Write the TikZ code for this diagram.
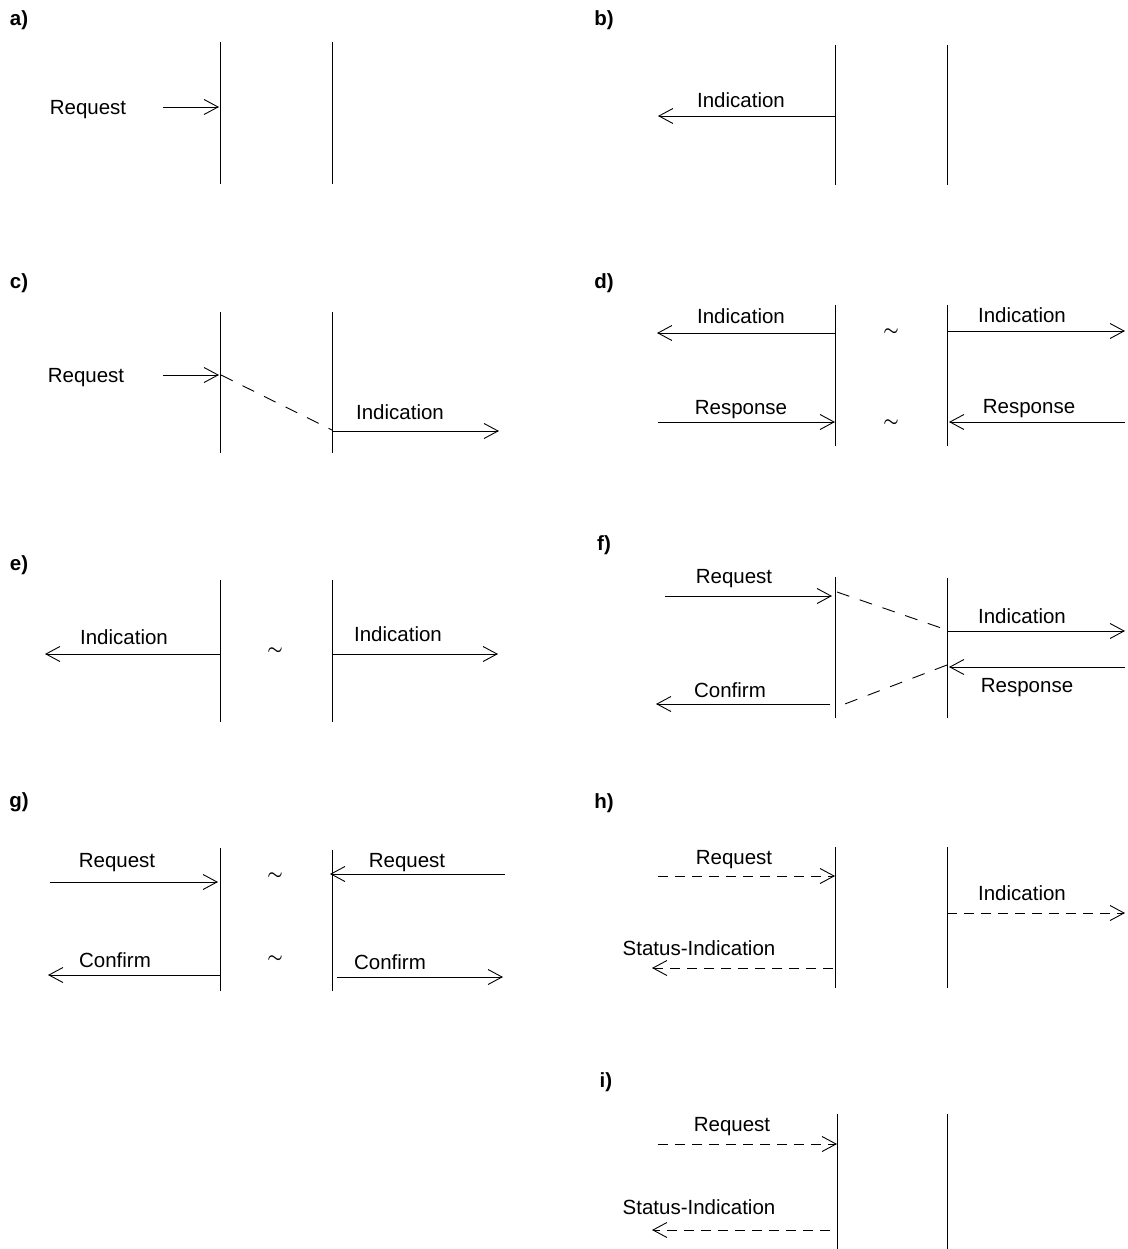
\documentclass[tikz,border=0pt]{standalone}
\usepackage{fontspec}
\setmainfont{Liberation Sans}
\usetikzlibrary{arrows.meta}

\begin{document}
\begin{tikzpicture}[x=1pt,y=-1pt,line width=0.9pt,
    every node/.style={font=\fontsize{20.5}{24}\selectfont,inner sep=0pt},
    msg/.style={-{Straight Barb[length=14pt,width=15pt,line width=0.9pt]}},
    svc/.style={msg,dash pattern=on 10pt off 7pt},
    link/.style={dash pattern=on 13pt off 11pt},
    wave/.style={font=\fontsize{19}{20}\selectfont\boldmath},
    tag/.style={font=\fontsize{20.5}{24}\selectfont\bfseries}]
    \useasboundingbox (0,0) rectangle (1127,1249);
    % a)
    \node[tag] (ta) at (19,20) {a)};
    \draw (220,42) -- (220,184);
    \draw (332,42) -- (332,184);
    \draw[msg] (163,107) -- (219,107);
    \node (reqa) at (88,110) {Request};
    % b)
    \node[tag] (tb) at (604,20) {b)};
    \draw (835,45) -- (835,185);
    \draw (947,45) -- (947,185);
    \draw[msg] (835,116) -- (658,116);
    \node (inb) at (741,100) {Indication};
    % c)
    \node[tag] (tc) at (19,283) {c)};
    \draw (220,312) -- (220,453);
    \draw (332,312) -- (332,453);
    \draw[msg] (163,375) -- (219,375);
    \node (reqc) at (86,378) {Request};
    \draw[link] (221,375) -- (332,430);
    \draw[msg] (332,431) -- (499,431);
    \node (inc) at (400,412) {Indication};
    % d)
    \node[tag] (td) at (604,283) {d)};
    \draw (835,305) -- (835,446);
    \draw (947,305) -- (947,446);
    \draw[msg] (835,333) -- (657,333);
    \node (ind1) at (741,316) {Indication};
    \node[wave] (tl1) at (891,332) {$\sim$};
    \draw[msg] (947,331) -- (1125,331);
    \node (ind2) at (1022,315) {Indication};
    \draw[msg] (658,422) -- (835,422);
    \node (rsd1) at (741,410) {Response};
    \node[wave] (tl2) at (891,423) {$\sim$};
    \draw[msg] (1125,422) -- (949,422);
    \node (rsd2) at (1029,409) {Response};
    % e)
    \node[tag] (te) at (19,565) {e)};
    \draw (220,580) -- (220,722);
    \draw (332,580) -- (332,722);
    \draw[msg] (220,654) -- (45,654);
    \node (ine1) at (124,637) {Indication};
    \node[wave] (tl3) at (275,651) {$\sim$};
    \draw[msg] (332,654) -- (498,654);
    \node (ine2) at (398,634) {Indication};
    % f)
    \node[tag] (tf) at (604,545) {f)};
    \draw (835,577) -- (835,718);
    \draw (947,578) -- (947,718);
    \draw[msg] (665,596) -- (832,596);
    \node (reqf) at (734,579) {Request};
    \draw[link] (837,592) -- (947,630);
    \draw[msg] (947,631) -- (1125,631);
    \node (inf) at (1022,616) {Indication};
    \draw[msg] (1125,667) -- (949,667);
    \node (rsf) at (1027,688) {Response};
    \draw[link] (947,665) -- (837,707);
    \draw[msg] (830,704) -- (656,704);
    \node (cnf) at (730,690) {Confirm};
    % g)
    \node[tag] (tg) at (19,802) {g)};
    \draw (220,848) -- (220,991);
    \draw (332,850) -- (332,991);
    \draw[msg] (50,882) -- (218,882);
    \node (reqg1) at (117,863) {Request};
    \node[wave] (tl4) at (275,876) {$\sim$};
    \draw[msg] (505,874) -- (330,874);
    \node (reqg2) at (407,863) {Request};
    \draw[msg] (220,975) -- (48,975);
    \node (cng1) at (115,960) {Confirm};
    \node[wave] (tl5) at (275,959) {$\sim$};
    \draw[msg] (337,977) -- (503,977);
    \node (cng2) at (390,962) {Confirm};
    % h)
    \node[tag] (th) at (604,803) {h)};
    \draw (835,847) -- (835,988);
    \draw (947,847) -- (947,988);
    \draw[svc] (658,876) -- (835,876);
    \node (reqh) at (734,860) {Request};
    \draw[svc] (947,913) -- (1125,913);
    \node (inh) at (1022,893) {Indication};
    \draw[svc] (833,968) -- (652,968);
    \node (sth) at (699,948) {Status-Indication};
    % i)
    \node[tag] (ti) at (606,1082) {i)};
    \draw (837,1114) -- (837,1249);
    \draw (947,1114) -- (947,1249);
    \draw[svc] (658,1144) -- (837,1144);
    \node (reqi) at (732,1127) {Request};
    \draw[svc] (830,1230) -- (652,1230);
    \node (sti) at (699,1207) {Status-Indication};
\end{tikzpicture}
\end{document}
